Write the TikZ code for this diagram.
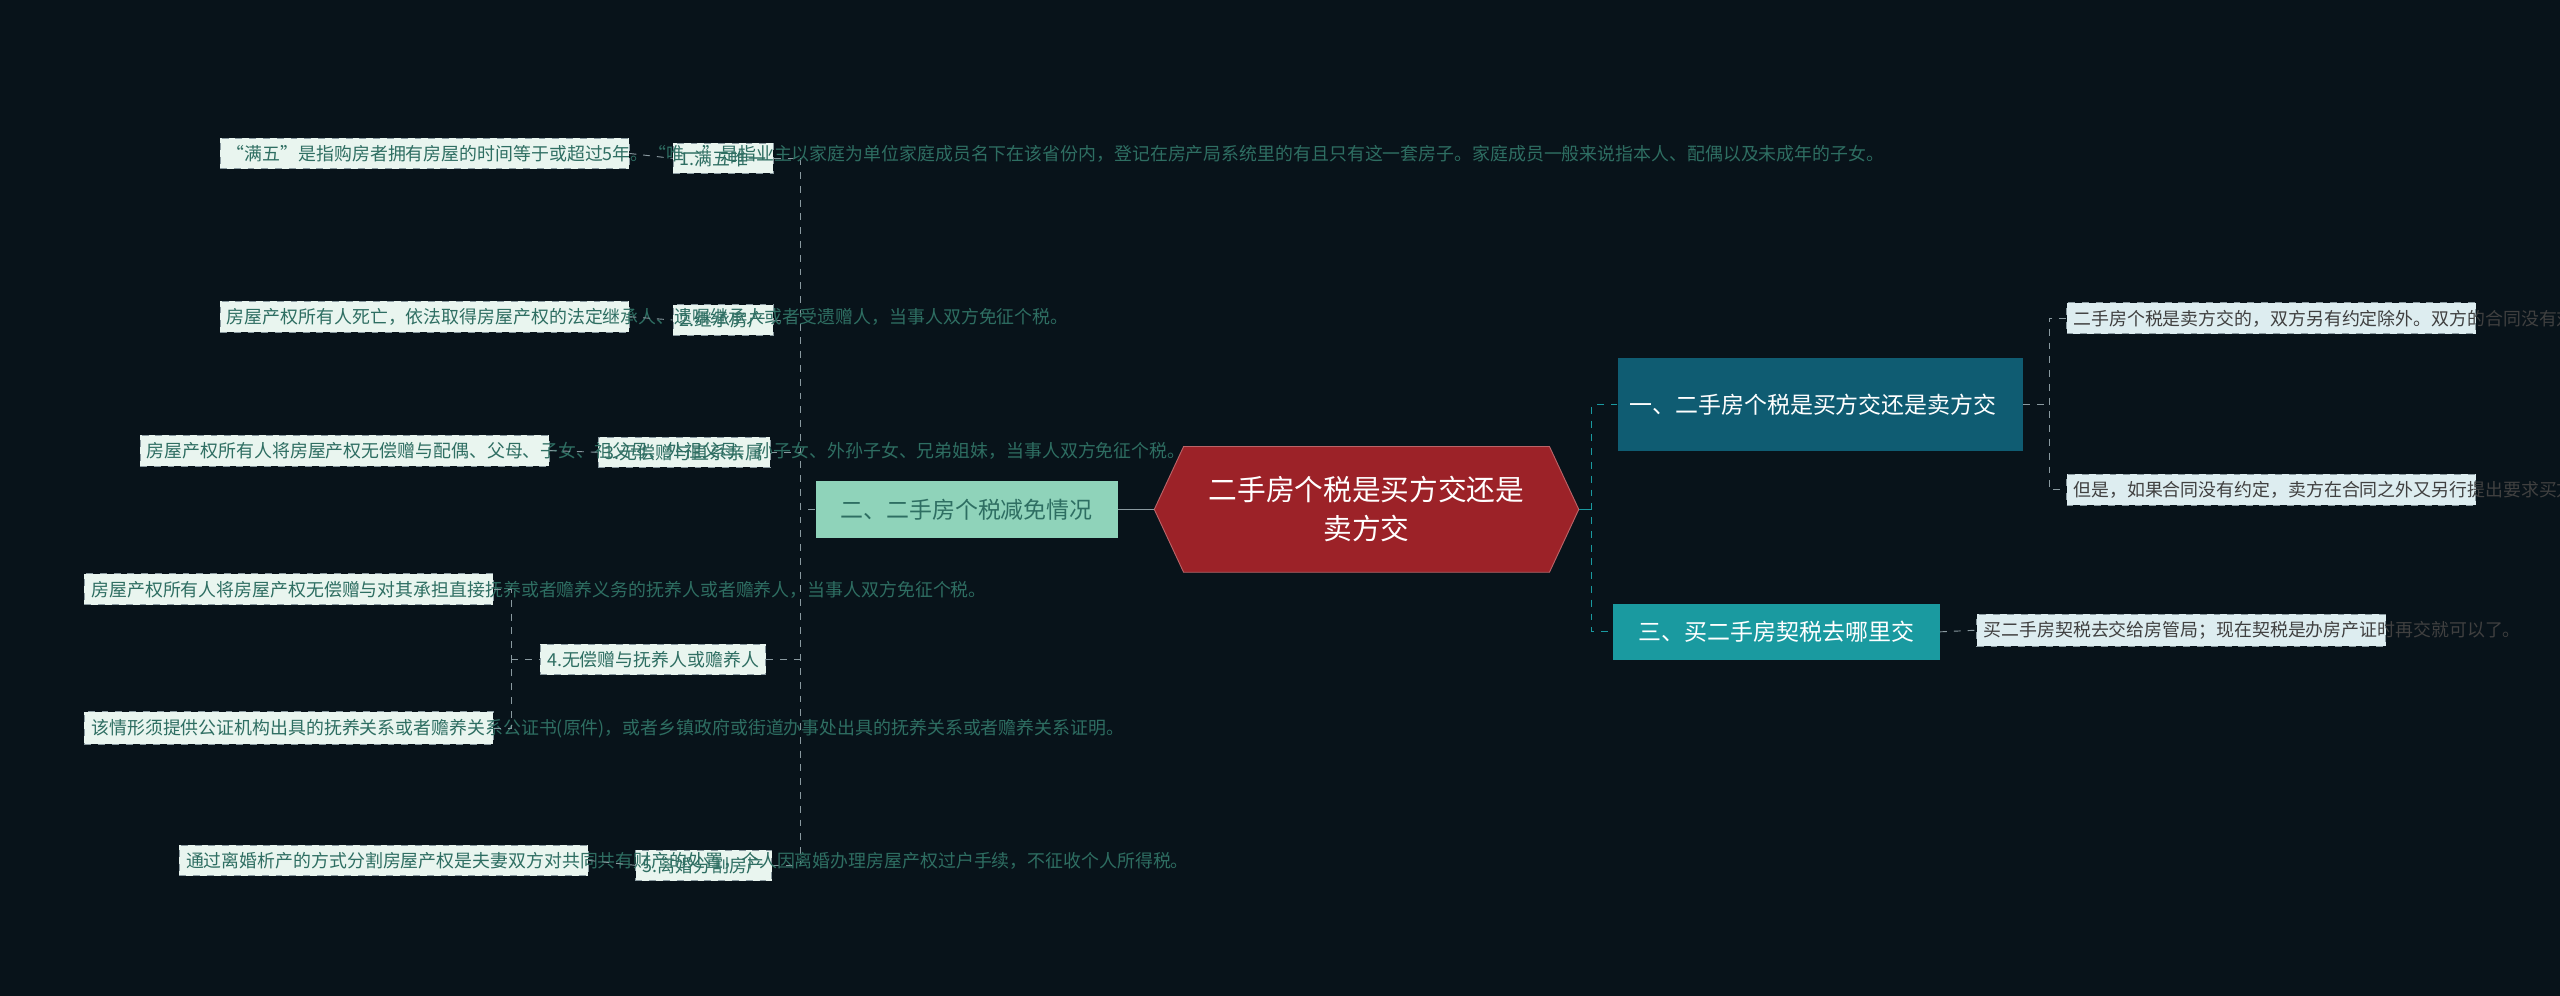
\documentclass[tikz,border=0pt]{standalone}
\usepackage{fontspec}
\setmainfont{Noto Sans CJK SC}
\usetikzlibrary{shapes.symbols}
\definecolor{bgcol}{HTML}{08131A}
\definecolor{rootred}{HTML}{9C2228}
\definecolor{mint}{HTML}{8FD3BA}
\definecolor{darkteal}{HTML}{0F5C72}
\definecolor{teal}{HTML}{1A9AA0}
\definecolor{leafmint}{HTML}{E9F5EF}
\definecolor{leafblue}{HTML}{DDEDF0}
\definecolor{tealtext}{HTML}{2E6E62}
\definecolor{linecol}{HTML}{8A9AA0}
\tikzset{
  leaf/.style={draw=linecol, dashed, fill=leafmint, text=tealtext, align=left,
    inner sep=3pt, text width=6.05cm, font=\fontsize{7.8}{11}\selectfont},
  leafr/.style={leaf, fill=leafblue, text=black!75},
  sub/.style={draw=linecol, dashed, fill=leafmint, text=tealtext, inner sep=3pt,
    font=\fontsize{7.8}{11}\selectfont},
  link/.style={draw=linecol, dashed, thin},
  linkr/.style={draw=teal, dashed, thin}
}
\begin{document}
\begin{tikzpicture}[x=0.025cm,y=-0.025cm]

\fill[bgcol] (0,0) rectangle (1568,610);

% centre
\node[signal, signal to=east and west, signal pointer angle=130, fill=rootred, draw=rootred!70!white,
  text=white, align=center, minimum width=260*0.025cm, minimum height=77*0.025cm,
  font=\fontsize{12.5}{17}\selectfont] (root) at (837,312) {二手房个税是买方交还是\\卖方交};

% left branch
\node[fill=mint, text=tealtext, minimum width=185*0.025cm, minimum height=35*0.025cm,
  font=\fontsize{10}{13}\selectfont] (left) at (592,312) {二、二手房个税减免情况};
\draw[linecol] (root.west) -- (left.east);
\coordinate (ltop) at (490,97);
\coordinate (lbot) at (490,530);
\draw[link] (ltop) -- (lbot);
\draw[link] (left.west) -- (490,312);

\node[sub] (s1) at (443,97) {1.满五唯一};
\node[sub] (s2) at (443,196) {2.继承房产};
\node[sub] (s3) at (419,277) {3.无偿赠与直系亲属};
\node[sub] (s4) at (400,404) {4.无偿赠与抚养人或赡养人};
\node[sub] (s5) at (431,530) {5.离婚分割房产};
\foreach \s in {s1,s2,s3,s4,s5} {
  \draw[link] (\s.east) -- (\s.east -| ltop);
}

\node[leaf] (l1) at (260,94) {“满五”是指购房者拥有房屋的时间等于或超过5年。“唯一”是指业主以家庭为单位家庭成员名下在该省份内，登记在房产局系统里的有且只有这一套房子。家庭成员一般来说指本人、配偶以及未成年的子女。};
\node[leaf] (l2) at (260,194) {房屋产权所有人死亡，依法取得房屋产权的法定继承人、遗嘱继承人或者受遗赠人，当事人双方免征个税。};
\node[leaf] (l3) at (211,276) {房屋产权所有人将房屋产权无偿赠与配偶、父母、子女、祖父母、外祖父母、孙子女、外孙子女、兄弟姐妹，当事人双方免征个税。};
\node[leaf] (l4a) at (177,361) {房屋产权所有人将房屋产权无偿赠与对其承担直接抚养或者赡养义务的抚养人或者赡养人，当事人双方免征个税。};
\node[leaf] (l4b) at (177,446) {该情形须提供公证机构出具的抚养关系或者赡养关系公证书(原件)，或者乡镇政府或街道办事处出具的抚养关系或者赡养关系证明。};
\node[leaf] (l5) at (235,527) {通过离婚析产的方式分割房屋产权是夫妻双方对共同共有财产的处置，个人因离婚办理房屋产权过户手续，不征收个人所得税。};

\draw[link] (l1.east) -- (s1.west);
\draw[link] (l2.east) -- (s2.west);
\draw[link] (l3.east) -- (s3.west);
\draw[link] (l5.east) -- (s5.west);
\coordinate (b4) at (313,404);
\draw[link] (l4a.east) -| (b4);
\draw[link] (l4b.east) -| (b4);
\draw[link] (b4) -- (s4.west);

% right branch
\node[fill=darkteal, text=white, align=left, text width=5.85cm, inner sep=5pt,
  minimum height=57*0.025cm, font=\fontsize{10}{14}\selectfont] (r1) at (1115,248) {一、二手房个税是买方交还是卖方交};
\node[fill=teal, text=white, minimum width=200*0.025cm, minimum height=34*0.025cm,
  font=\fontsize{10}{13}\selectfont] (r2) at (1088,387) {三、买二手房契税去哪里交};
\coordinate (rtr) at (975,312);
\draw[teal] (root.east) -- (rtr);
\draw[linkr] (r1.west) -| (rtr) |- (r2.west);

\node[leafr] (r1a) at (1391,195) {二手房个税是卖方交的，双方另有约定除外。双方的合同没有对税费该由谁来承担进行约定，如果合同约定了应当由买房承担税费的，由于合同是双方当事人的真实意思表示，那买方理应承担相关税费，这点并不违反法律规定。};
\node[leafr] (r1b) at (1391,300) {但是，如果合同没有约定，卖方在合同之外又另行提出要求买方承担税费的，那么买方可以予以拒绝，如果双方就此无法达成协商，买方有权要求解除合同，且无须承担违约责任。};
\node[leafr] (r2a) at (1336,386) {买二手房契税去交给房管局；现在契税是办房产证时再交就可以了。};
\coordinate (rb) at (1255,248);
\draw[link] (r1.east) -- (rb);
\draw[link] (r1a.west) -| (rb) |- (r1b.west);
\draw[link] (r2.east) -- (r2a.west);
\end{tikzpicture}
\end{document}
